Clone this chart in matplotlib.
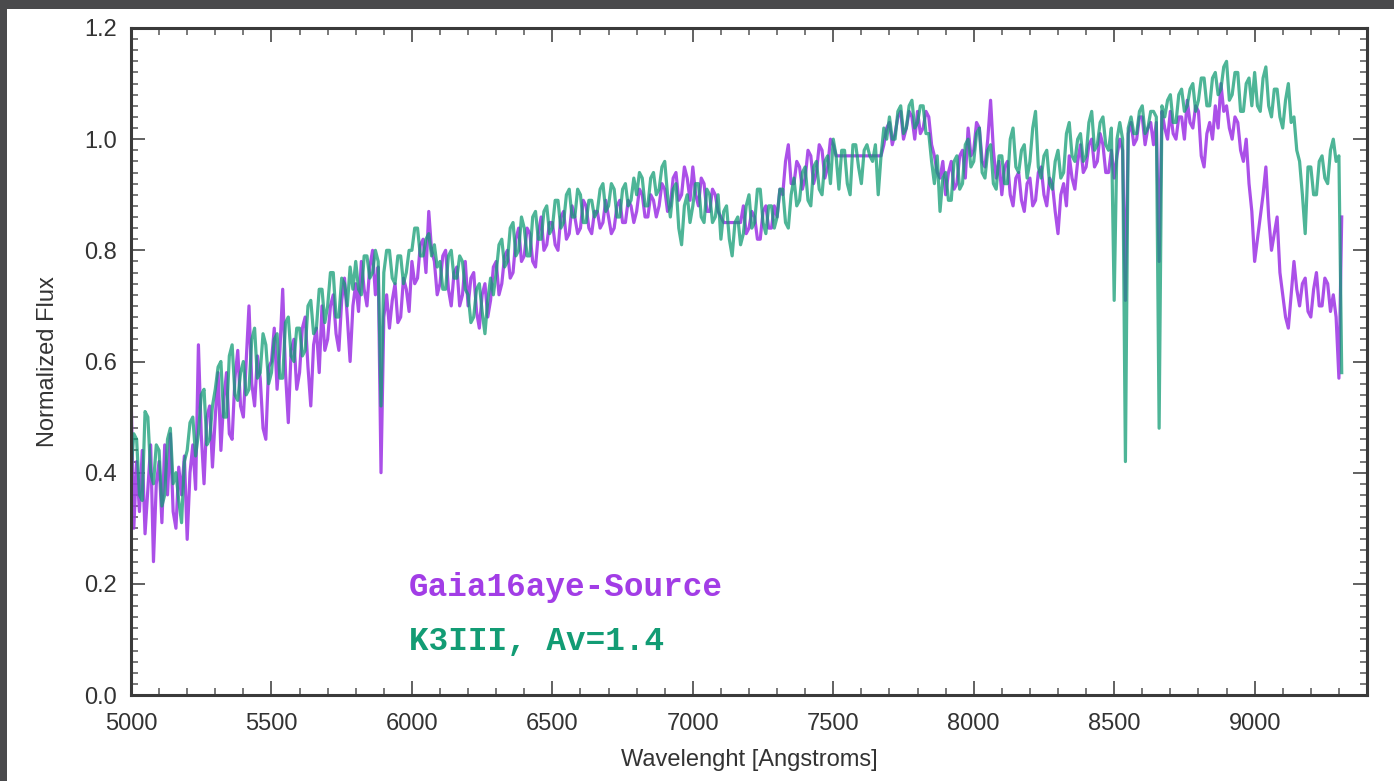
import matplotlib.pyplot as plt
from matplotlib.patches import Rectangle
from matplotlib.ticker import MultipleLocator

# === Données ===
# grille en longueur d'onde : un point tous les 10 Angstroms, de 5000 à 9310
wave = list(range(5000, 9320, 10))

# une ligne = un bloc de 100 A (5000-5090, 5100-5190, ...)
flux_source = [
    0.55, 0.30, 0.42, 0.33, 0.44, 0.29, 0.37, 0.45, 0.24, 0.38,
    0.42, 0.31, 0.45, 0.36, 0.47, 0.33, 0.30, 0.41, 0.36, 0.43,
    0.28, 0.40, 0.45, 0.37, 0.63, 0.47, 0.38, 0.50, 0.52, 0.41,
    0.50, 0.58, 0.44, 0.53, 0.58, 0.47, 0.46, 0.57, 0.62, 0.52,
    0.50, 0.60, 0.70, 0.56, 0.52, 0.61, 0.57, 0.48, 0.46, 0.59,
    0.60, 0.66, 0.55, 0.62, 0.73, 0.58, 0.49, 0.62, 0.64, 0.55,
    0.58, 0.66, 0.68, 0.59, 0.52, 0.63, 0.66, 0.58, 0.70, 0.62,
    0.64, 0.70, 0.72, 0.65, 0.62, 0.71, 0.75, 0.68, 0.60, 0.70,
    0.74, 0.69, 0.78, 0.73, 0.70, 0.77, 0.80, 0.72, 0.77, 0.40,
    0.68, 0.72, 0.66, 0.71, 0.74, 0.67, 0.68, 0.75, 0.73, 0.69,
    0.78, 0.74, 0.75, 0.81, 0.82, 0.76, 0.87, 0.80, 0.78, 0.72,
    0.74, 0.79, 0.80, 0.73, 0.70, 0.76, 0.77, 0.70, 0.72, 0.78,
    0.70, 0.75, 0.76, 0.69, 0.66, 0.72, 0.74, 0.68, 0.71, 0.77,
    0.78, 0.72, 0.74, 0.79, 0.80, 0.75, 0.76, 0.82, 0.84, 0.78,
    0.79, 0.84, 0.83, 0.78, 0.77, 0.83, 0.86, 0.80, 0.81, 0.85,
    0.85, 0.81, 0.80, 0.86, 0.87, 0.82, 0.83, 0.88, 0.86, 0.83,
    0.84, 0.89, 0.88, 0.84, 0.83, 0.87, 0.87, 0.84, 0.85, 0.89,
    0.86, 0.83, 0.84, 0.88, 0.89, 0.85, 0.85, 0.89, 0.88, 0.85,
    0.87, 0.91, 0.90, 0.86, 0.86, 0.90, 0.89, 0.86, 0.88, 0.92,
    0.91, 0.87, 0.88, 0.93, 0.94, 0.89, 0.90, 0.95, 0.93, 0.89,
    0.95, 0.90, 0.88, 0.93, 0.92, 0.87, 0.87, 0.91, 0.90, 0.87,
    0.86, 0.85, 0.85, 0.85, 0.85, 0.85, 0.85, 0.85, 0.88, 0.83,
    0.84, 0.87, 0.86, 0.82, 0.82, 0.87, 0.88, 0.84, 0.84, 0.88,
    0.86, 0.91, 0.90, 0.96, 0.99, 0.92, 0.92, 0.96, 0.95, 0.91,
    0.93, 0.98, 0.97, 0.92, 0.94, 0.99, 0.98, 0.93, 0.95, 1.00,
    0.99, 0.97, 0.97, 0.97, 0.97, 0.97, 0.97, 0.97, 0.97, 0.97,
    0.97, 0.97, 0.97, 0.97, 0.97, 0.97, 0.97, 0.97, 0.99, 1.02,
    1.03, 0.99, 1.01, 1.04, 1.05, 1.00, 1.02, 1.05, 1.04, 1.00,
    1.05, 1.01, 1.02, 1.05, 1.04, 0.99, 0.97, 0.94, 0.93, 0.96,
    0.90, 0.94, 0.96, 0.91, 0.92, 0.97, 0.98, 0.93, 1.02, 0.97,
    0.98, 1.03, 1.02, 0.96, 0.95, 1.00, 1.07, 0.98, 0.93, 0.96,
    0.90, 0.95, 0.96, 0.90, 0.88, 0.93, 0.94, 0.89, 0.87, 0.92,
    0.93, 0.88, 0.89, 0.94, 0.95, 0.90, 0.88, 0.93, 0.92, 0.87,
    0.83, 0.90, 0.92, 0.88, 0.97, 0.93, 0.91, 0.96, 0.99, 0.94,
    0.95, 0.99, 1.00, 0.95, 0.96, 1.01, 0.99, 0.94, 0.94, 0.98,
    0.93, 0.97, 1.00, 0.98, 0.71, 1.01, 1.03, 0.99, 1.00, 1.04,
    1.04, 0.99, 1.02, 1.03, 0.99, 1.03, 0.78, 1.05, 1.02, 1.00,
    1.05, 1.01, 1.00, 1.04, 1.04, 1.00, 1.07, 1.03, 1.02, 1.06,
    1.05, 0.97, 0.95, 1.01, 1.03, 1.00, 1.06, 1.02, 1.10, 1.05,
    1.06, 1.02, 1.00, 1.04, 1.03, 0.98, 0.96, 1.00, 0.92, 0.87,
    0.78, 0.82, 0.86, 0.90, 0.95, 0.86, 0.80, 0.83, 0.86, 0.76,
    0.72, 0.68, 0.66, 0.72, 0.78, 0.73, 0.70, 0.74, 0.75, 0.69,
    0.68, 0.73, 0.76, 0.70, 0.70, 0.75, 0.74, 0.69, 0.72, 0.68,
    0.57, 0.86,
]

flux_k3iii = [
    0.40, 0.47, 0.46, 0.36, 0.35, 0.51, 0.50, 0.40, 0.38, 0.45,
    0.44, 0.34, 0.36, 0.46, 0.48, 0.38, 0.40, 0.35, 0.31, 0.42,
    0.44, 0.49, 0.50, 0.43, 0.47, 0.54, 0.55, 0.45, 0.46, 0.52,
    0.55, 0.59, 0.60, 0.50, 0.50, 0.61, 0.63, 0.54, 0.53, 0.58,
    0.60, 0.54, 0.55, 0.64, 0.66, 0.57, 0.58, 0.65, 0.63, 0.56,
    0.58, 0.64, 0.65, 0.57, 0.57, 0.67, 0.68, 0.61, 0.60, 0.66,
    0.66, 0.61, 0.62, 0.70, 0.71, 0.65, 0.66, 0.73, 0.73, 0.67,
    0.70, 0.76, 0.76, 0.68, 0.68, 0.75, 0.74, 0.70, 0.77, 0.73,
    0.78, 0.73, 0.72, 0.79, 0.79, 0.75, 0.76, 0.80, 0.78, 0.52,
    0.76, 0.80, 0.80, 0.75, 0.74, 0.79, 0.79, 0.74, 0.76, 0.80,
    0.80, 0.84, 0.84, 0.79, 0.79, 0.82, 0.83, 0.79, 0.81, 0.77,
    0.78, 0.73, 0.73, 0.79, 0.80, 0.75, 0.75, 0.79, 0.78, 0.73,
    0.72, 0.67, 0.68, 0.73, 0.74, 0.69, 0.65, 0.71, 0.75, 0.72,
    0.76, 0.81, 0.82, 0.77, 0.78, 0.84, 0.85, 0.79, 0.80, 0.86,
    0.84, 0.79, 0.79, 0.86, 0.87, 0.82, 0.82, 0.87, 0.88, 0.83,
    0.84, 0.89, 0.89, 0.84, 0.85, 0.90, 0.91, 0.86, 0.86, 0.91,
    0.90, 0.85, 0.85, 0.89, 0.89, 0.86, 0.87, 0.91, 0.92, 0.87,
    0.88, 0.92, 0.91, 0.86, 0.86, 0.91, 0.92, 0.88, 0.89, 0.93,
    0.90, 0.94, 0.93, 0.88, 0.88, 0.93, 0.94, 0.90, 0.91, 0.95,
    0.96, 0.90, 0.86, 0.91, 0.92, 0.84, 0.81, 0.88, 0.90, 0.85,
    0.88, 0.92, 0.92, 0.86, 0.85, 0.91, 0.90, 0.85, 0.86, 0.90,
    0.82, 0.87, 0.88, 0.82, 0.79, 0.85, 0.86, 0.81, 0.83, 0.88,
    0.90, 0.84, 0.85, 0.91, 0.91, 0.85, 0.83, 0.88, 0.88, 0.84,
    0.86, 0.91, 0.91, 0.85, 0.84, 0.90, 0.93, 0.88, 0.89, 0.94,
    0.95, 0.89, 0.88, 0.95, 0.96, 0.91, 0.90, 0.96, 0.97, 0.92,
    1.00, 0.97, 0.91, 0.98, 0.98, 0.92, 0.90, 0.99, 0.99, 0.95,
    0.92, 0.98, 0.99, 0.97, 0.96, 0.99, 0.90, 0.97, 1.02, 1.00,
    1.04, 1.00, 1.00, 1.05, 1.06, 1.01, 1.02, 1.06, 1.07, 1.02,
    1.03, 1.06, 1.06, 1.01, 1.01, 0.96, 0.92, 0.97, 0.87, 0.93,
    0.94, 0.89, 0.89, 0.96, 0.97, 0.91, 0.92, 0.99, 1.00, 0.95,
    0.96, 1.01, 1.02, 0.94, 0.93, 0.98, 0.99, 0.92, 0.91, 0.97,
    0.97, 0.92, 0.92, 1.00, 1.02, 0.95, 0.94, 0.98, 0.99, 0.93,
    0.96, 1.02, 1.05, 0.95, 0.93, 0.97, 0.98, 0.92, 0.91, 0.96,
    0.98, 0.93, 0.94, 1.01, 1.03, 0.97, 0.96, 1.00, 1.01, 0.96,
    0.97, 1.03, 1.05, 0.98, 0.99, 1.03, 1.04, 0.99, 0.98, 1.02,
    0.71, 1.00, 1.03, 1.00, 0.42, 1.02, 1.04, 1.01, 1.01, 1.05,
    1.06, 1.01, 1.02, 1.05, 1.05, 1.04, 0.48, 1.06, 1.04, 1.07,
    1.08, 1.03, 1.03, 1.08, 1.09, 1.05, 1.06, 1.09, 1.10, 1.05,
    1.07, 1.11, 1.11, 1.06, 1.06, 1.11, 1.12, 1.08, 1.09, 1.13,
    1.14, 1.07, 1.08, 1.12, 1.12, 1.05, 1.05, 1.10, 1.11, 1.06,
    1.12, 1.06, 1.05, 1.11, 1.13, 1.06, 1.04, 1.09, 1.09, 1.04,
    1.02, 1.07, 1.10, 1.03, 1.04, 0.98, 0.96, 0.90, 0.83, 0.95,
    0.95, 0.90, 0.90, 0.96, 0.97, 0.93, 0.92, 0.98, 1.00, 0.96,
    0.97, 0.58,
]

label_source = "Gaia16aye-Source"
label_k3iii = "K3III, Av=1.4"
purple = "#a23de6"
teal = "#129c74"

plt.rcParams['font.family'] = ['Liberation Sans', 'DejaVu Sans']

fig = plt.figure(figsize=(13.94, 7.81), dpi=100)
fig.patch.set_facecolor("#4a4a4c")
# panneau blanc, derrière les axes
panel = Rectangle((7 / 1394, 0), 1387 / 1394, 772 / 781,
                  transform=fig.transFigure, facecolor="white",
                  edgecolor="none", zorder=-10)
fig.add_artist(panel)

ax = fig.add_axes([131 / 1394, 86 / 781, 1236 / 1394, 667 / 781])
ax.set_zorder(5)
ax.set_facecolor("white")

ax.plot(wave, flux_source, color=purple, lw=2.3, alpha=0.9)
ax.plot(wave, flux_k3iii, color=teal, lw=2.3, alpha=0.75)

ax.set_xlim(5000, 9400)
ax.set_ylim(0, 1.2)
ax.xaxis.set_minor_locator(MultipleLocator(100))
ax.yaxis.set_minor_locator(MultipleLocator(0.02))
ax.set_xticks([5000, 5500, 6000, 6500, 7000, 7500, 8000, 8500, 9000])
ax.set_yticks([0.0, 0.2, 0.4, 0.6, 0.8, 1.0, 1.2])
ax.set_yticklabels(["0.0", "0.2", "0.4", "0.6", "0.8", "1.0", "1.2"])

ax.tick_params(which="both", direction="in", top=True, right=True,
               colors="#555555", labelcolor="#333333", labelsize=17)
ax.tick_params(which="major", length=10, width=1.3, pad=10)
ax.tick_params(axis="x", which="major", pad=13)
ax.tick_params(which="minor", length=5, width=1.1)
for sp in ax.spines.values():
    sp.set_color("#3a3a3a")
    sp.set_linewidth(2.2)

ax.set_xlabel("Wavelenght [Angstroms]", fontsize=17, color="#333333", labelpad=10)
ax.set_ylabel("Normalized Flux", fontsize=17, color="#333333", labelpad=18)

ax.text(5990, 0.194, label_source, color=purple, fontsize=23.5,
        family=["Liberation Mono", "DejaVu Sans Mono"], fontweight="bold",
        ha="left", va="center")
ax.text(5990, 0.097, label_k3iii, color=teal, fontsize=23.5,
        family=["Liberation Mono", "DejaVu Sans Mono"], fontweight="bold",
        ha="left", va="center")

fig.savefig("out.png", dpi=100, facecolor=fig.get_facecolor())
